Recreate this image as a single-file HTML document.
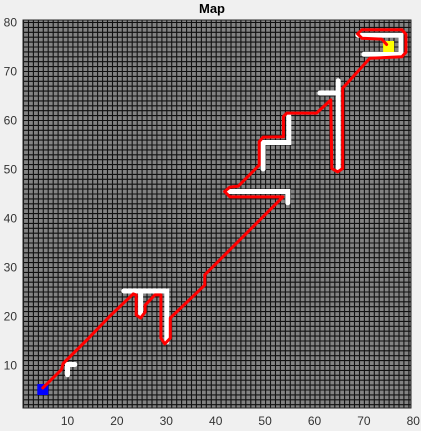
<!DOCTYPE html>
<html><head><meta charset="utf-8"><style>
html,body{margin:0;padding:0;background:#f0f0f0;}
svg{display:block;font-family:"Liberation Sans",sans-serif;}
</style></head><body>
<svg id="chart" width="421" height="431">
<text x="212" y="13" text-anchor="middle" font-size="13" font-weight="bold" fill="#000">Map</text>
<g id="plot"></g>
<g id="xticks"></g>
<g id="yticks"></g>
</svg>
<script>
const xTicks = [10,20,30,40,50,60,70,80];
const yTicks = [10,20,30,40,50,60,70,80];
const pathX = [5.0,8.8,9.1,13.9,18.6,23.3,23.9,23.9,24.8,25.7,25.7,27.7,28.9,28.9,29.7,30.8,30.8,37.8,37.8,52.0,53.6,42.9,41.8,42.9,44.6,48.8,48.8,49.6,53.7,53.7,54.4,60.4,63.3,63.5,64.7,65.7,65.7,71.2,77.7,78.5,78.5,77.7,69.6,68.7,69.6,73.6,74.6];
const pathY = [5.3,9.1,10.3,15.1,20.0,24.5,24.3,20.2,19.6,20.8,22.2,24.3,24.3,15.5,14.3,15.5,19.6,26.3,28.4,42.7,44.3,44.3,45.4,46.3,46.5,50.8,55.6,56.5,56.6,60.7,61.4,61.4,64.1,50.1,49.4,50.1,66.5,72.6,72.9,73.8,77.5,78.4,78.4,77.6,76.7,76.5,75.4];
const obsX = [[11.5,10,10],[21.4,30.1,30.1],[24.8,24.8],[42.5,54.6,54.6],[49.6,49.6,54.8,54.8],[64.8,64.8],[61.1,64.8],[68.8,77.5,77.5,70.0]];
const obsY = [[10.1,10.1,8.0],[25.1,25.1,14.7],[25.1,20.2],[45.4,45.4,43.1],[50.0,55.4,55.4,60.8],[68.0,50.2],[65.5,65.5],[77.3,77.3,73.4,73.4]];
const startPt = [5,5];
const goalPt = [75,75];

const X0=18.1, SX=4.94, Y0=414, SY=4.9;
const L=23, R=411, T=20, B=408;
const sx = v => X0 + v*SX;
const sy = v => Y0 - v*SY;
const NS='http://www.w3.org/2000/svg';
function mk(tag, attrs, parent){const e=document.createElementNS(NS,tag);for(const k in attrs)e.setAttribute(k,attrs[k]);parent.appendChild(e);return e;}

const plot=document.getElementById('plot');
const bg = mk('rect',{x:L,y:T,width:R-L,height:B-T,fill:'#838383'},plot);


let d='';
for(let i=1;i<=80;i++){const x=sx(i)+0.5; if(x>L&&x<R) d+=`M${x.toFixed(1)} ${T}V${B}`;}
for(let i=1;i<=81;i++){const y=sy(i)+0.5; if(y>T&&y<B) d+=`M${L} ${y.toFixed(1)}H${R}`;}
const grid=mk('path',{d:d,stroke:'#111',"stroke-width":1.1,fill:'none'},plot);



obsX.forEach((xs,i)=>{
  const pts=xs.map((x,j)=>sx(x).toFixed(1)+','+sy(obsY[i][j]).toFixed(1)).join(' ');
  const o=mk('polyline',{points:pts,stroke:'#fff',"stroke-width":5,fill:'none',"stroke-linecap":'round',"stroke-linejoin":'miter'},plot);
  
  
});

const s=mk('rect',{x:sx(startPt[0])-5.5,y:sy(startPt[1])-5.5,width:11,height:11,fill:'#0000ff'},plot);


const g=mk('rect',{x:sx(goalPt[0])-5.5,y:sy(goalPt[1])-5.5,width:11,height:11,fill:'#ffff00'},plot);



const pp=pathX.map((x,j)=>sx(x).toFixed(1)+','+sy(pathY[j]).toFixed(1)).join(' ');
const path=mk('polyline',{points:pp,stroke:'#ff0000',"stroke-width":3,fill:'none',"stroke-linejoin":'round',"stroke-linecap":'round'},plot);



const border=mk('rect',{x:L,y:T,width:R-L,height:B-T,fill:'none',stroke:'#262626',"stroke-width":1},plot);



const xg=document.getElementById('xticks');
xTicks.forEach(v=>{
  const t=mk('text',{x:sx(v),y:425,"text-anchor":'middle',"font-size":12,fill:'#333'},xg);
  t.textContent=v;
  
  
});
const yg=document.getElementById('yticks');
yTicks.forEach(v=>{
  const t=mk('text',{x:17,y:sy(v)+4.5,"text-anchor":'end',"font-size":12,fill:'#333'},yg);
  t.textContent=v;
  
  
});
</script>
</body></html>
